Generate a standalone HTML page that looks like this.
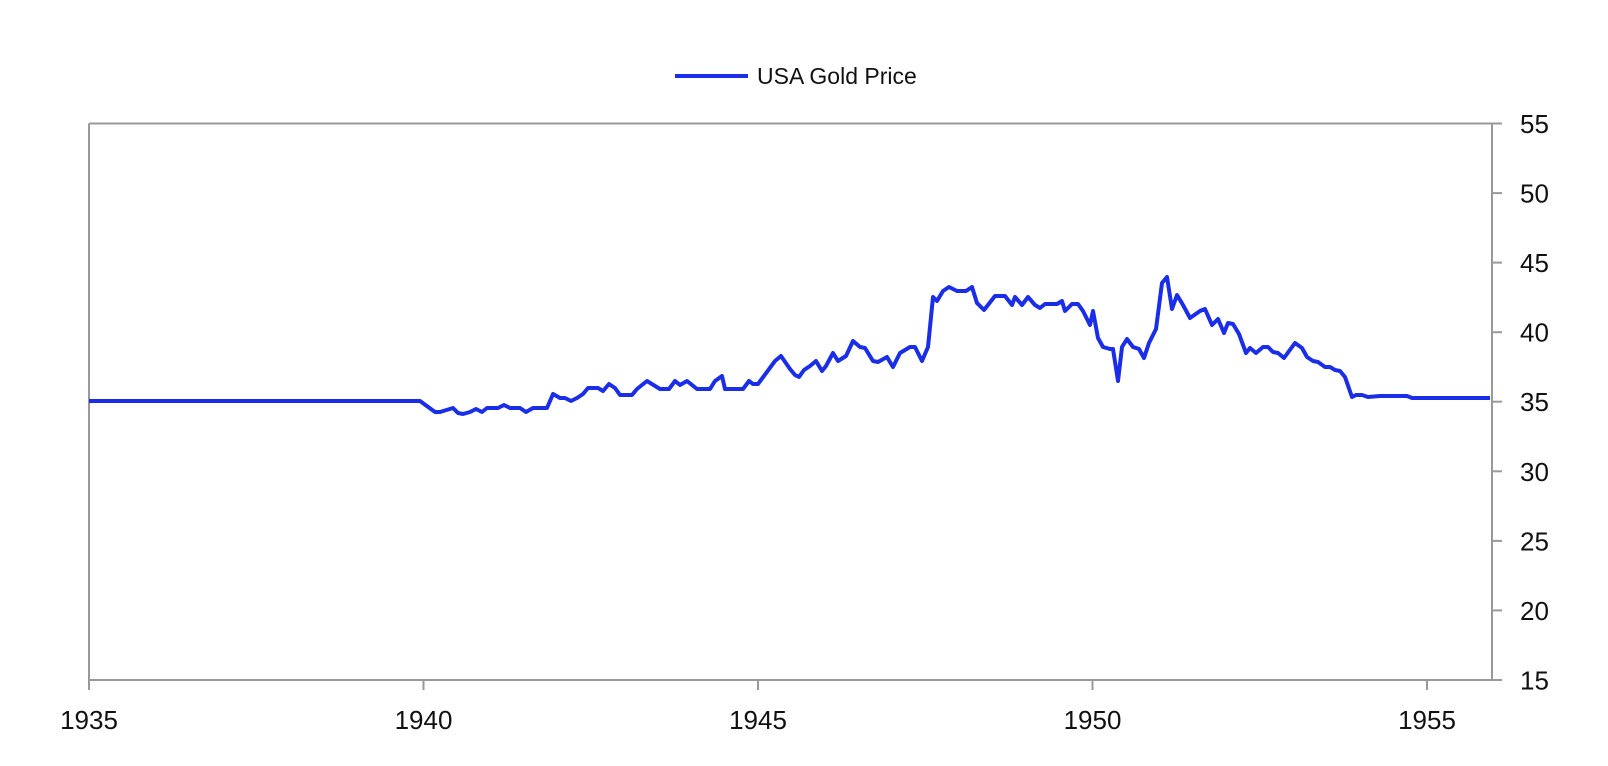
<!DOCTYPE html>
<html><head><meta charset="utf-8"><style>
html,body{margin:0;padding:0;background:#fff;}
svg{display:block;}
text{font-family:"Liberation Sans",sans-serif;fill:#111;}
</style></head><body>
<svg width="1608" height="766" viewBox="0 0 1608 766" xmlns="http://www.w3.org/2000/svg">
<line x1="675" y1="76" x2="748" y2="76" stroke="#1a2ee8" stroke-width="4"/>
<text x="757" y="84" font-size="23">USA Gold Price</text>
<g stroke="#999" stroke-width="2" fill="none">
<polyline points="89,123.5 1492,123.5 1492,680 89,680 89,123.5"/>
<line x1="89" y1="680" x2="89" y2="690"/>
<line x1="423.5" y1="680" x2="423.5" y2="690"/>
<line x1="758" y1="680" x2="758" y2="690"/>
<line x1="1092.5" y1="680" x2="1092.5" y2="690"/>
<line x1="1427" y1="680" x2="1427" y2="690"/>
<line x1="1492" y1="123.5" x2="1502" y2="123.5"/>
<line x1="1492" y1="193.1" x2="1502" y2="193.1"/>
<line x1="1492" y1="262.6" x2="1502" y2="262.6"/>
<line x1="1492" y1="332.2" x2="1502" y2="332.2"/>
<line x1="1492" y1="401.7" x2="1502" y2="401.7"/>
<line x1="1492" y1="471.3" x2="1502" y2="471.3"/>
<line x1="1492" y1="540.9" x2="1502" y2="540.9"/>
<line x1="1492" y1="610.4" x2="1502" y2="610.4"/>
<line x1="1492" y1="680" x2="1502" y2="680"/>
</g>
<g font-size="26" text-anchor="middle">
<text x="89" y="729">1935</text>
<text x="423.5" y="729">1940</text>
<text x="758" y="729">1945</text>
<text x="1092.5" y="729">1950</text>
<text x="1427" y="729">1955</text>
</g>
<g font-size="26">
<text x="1520" y="133">55</text>
<text x="1520" y="202.6">50</text>
<text x="1520" y="272.1">45</text>
<text x="1520" y="341.7">40</text>
<text x="1520" y="411.2">35</text>
<text x="1520" y="480.8">30</text>
<text x="1520" y="550.4">25</text>
<text x="1520" y="619.9">20</text>
<text x="1520" y="689.5">15</text>
</g>
<polyline fill="none" stroke="#1a2ee8" stroke-width="4" stroke-linejoin="round" points="
89,401 420,401 435,412 440,412 453,408 458,413 463,414 470,412 476,409 482,412 487,408 498,408 504,405 510,408 520,408 526,412 533,408 547,408 553,394 560,398 565,398 571,401 577,398 583,394 588,388 598,388 603,391 609,384 615,388 620,395 632,395 637,389 647,381 660,389 669,389 675,381 680,385 687,381 697,389 710,389 715,381 722,376 725,389 743,389 749,381 753,384 758,384 775,361 781,356 790,369 795,375 799,377 804,370 810,366 816,361 822,371 826,366 833,353 838,361 846,356 853,341 860,347 865,348 873,361 878,362 887,357 893,367 900,353 910,347 915,347 922,361 928,347 933,297 937,301 943,291 949,287 957,291 966,291 972,287 977,303 984,310 995,296 1005,296 1012,305 1015,297 1022,305 1028,297 1035,305 1040,308 1045,304 1057,304 1062,301 1065,311 1072,304 1078,304 1083,311 1090,325 1093,311 1098,338 1103,347 1110,349 1113,349 1118,381 1122,347 1127,339 1133,347 1139,349 1144,358 1149,343 1156,329 1162,283 1167,277 1172,309 1177,295 1183,305 1190,318 1200,311 1205,309 1212,325 1218,319 1224,333 1228,323 1233,324 1239,334 1246,353 1250,348 1256,353 1263,347 1268,347 1273,352 1278,353 1284,358 1295,343 1302,348 1307,357 1313,361 1318,362 1325,367 1330,367 1335,370 1340,371 1345,377 1352,397 1356,395 1362,395 1368,397 1380,396 1407,396 1412,398 1490,398"/>
</svg>
</body></html>
